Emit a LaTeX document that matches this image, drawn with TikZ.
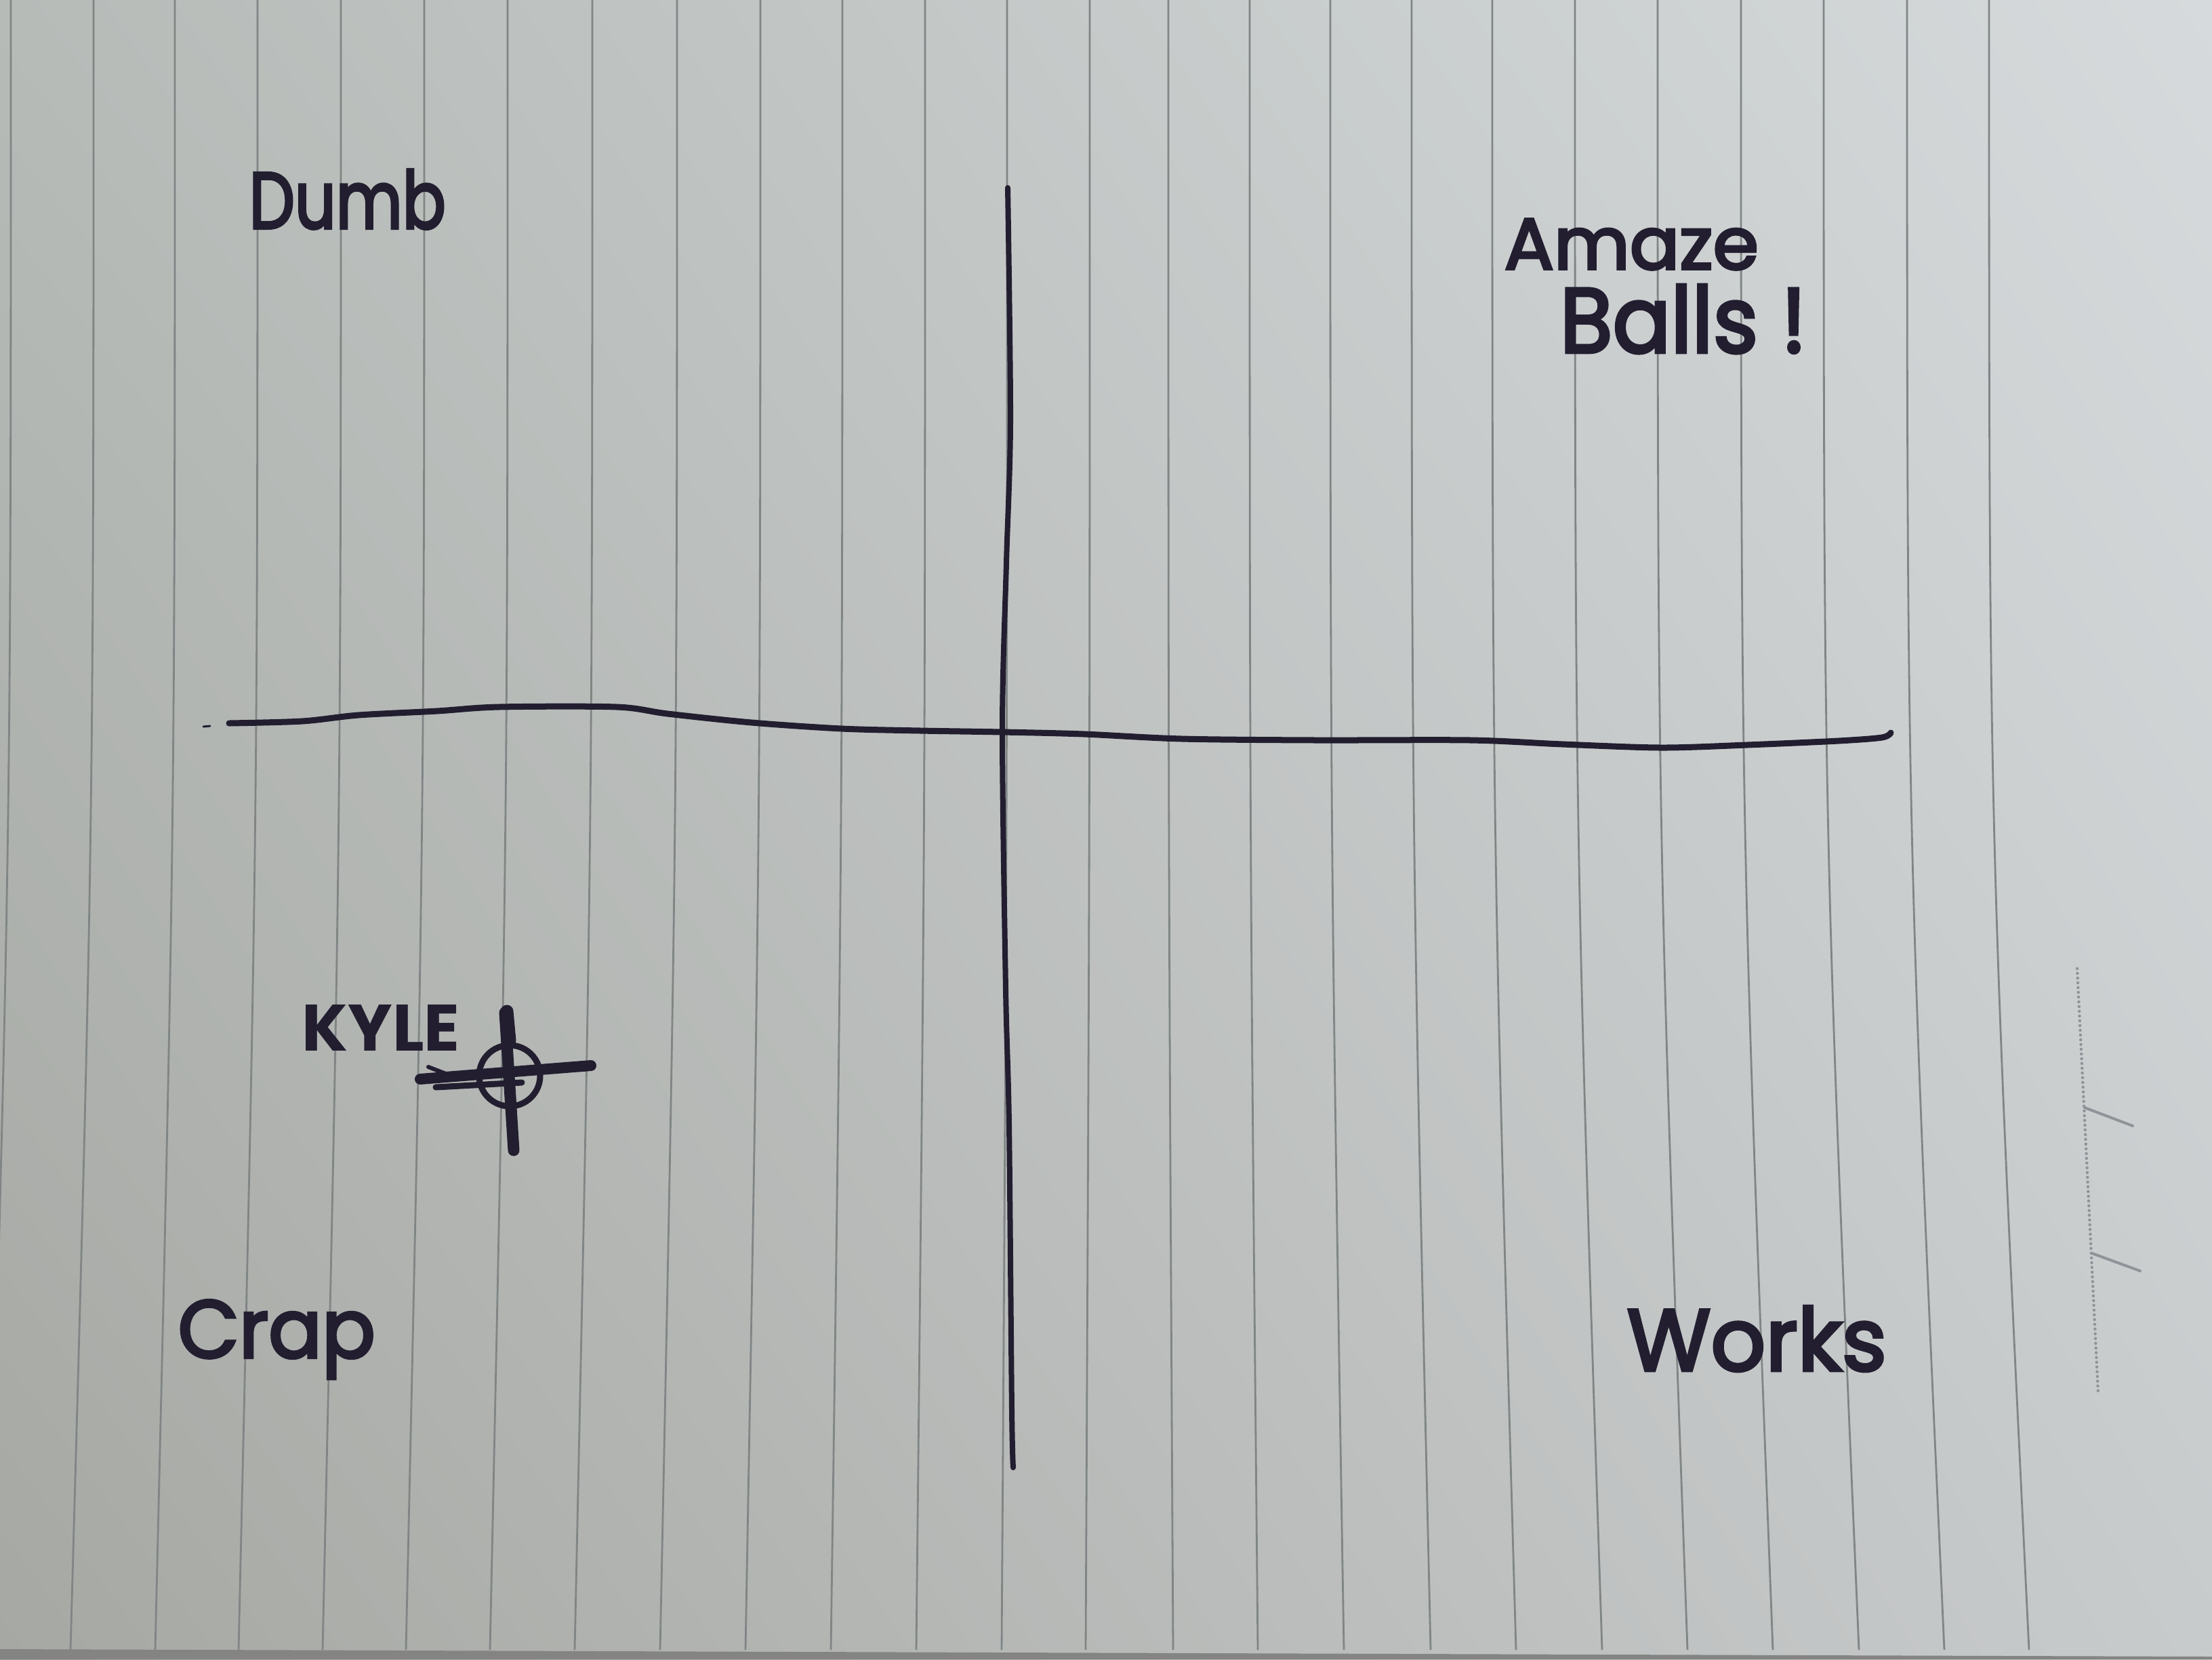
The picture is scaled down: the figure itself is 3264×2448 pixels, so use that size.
\documentclass[tikz,border=0pt]{standalone}
\usepackage{fontspec}
\setmainfont{Poppins}
\newfontfamily\penfont[FakeBold=3.5]{Poppins}
\usepackage{graphicx}
\usetikzlibrary{shadings}

\definecolor{ink}{RGB}{34,30,48}
\definecolor{rule}{RGB}{128,133,133}
\definecolor{perf}{RGB}{142,148,152}
\definecolor{paperUL}{RGB}{182,187,184}
\definecolor{paperUR}{RGB}{214,218,220}
\definecolor{paperLL}{RGB}{166,168,163}
\definecolor{paperLR}{RGB}{200,203,204}
\definecolor{edge}{RGB}{132,132,130}

% handwritten word squeezed into a given width and height
\newcommand{\handword}[3]{\resizebox{#1}{#2}{#3}}

\tikzset{
  ruling/.style={draw=rule, line width=0.028cm},
  axisline/.style={draw=ink, line width=0.09cm, line cap=round, line join=round},
  marker/.style={draw=ink, line cap=round},
  word/.style={text=ink, inner sep=0pt, anchor=base west, font=\penfont},
}

\begin{document}
\begin{tikzpicture}[x=0.01cm, y=-0.01cm]
  \useasboundingbox (0,0) rectangle (3264,2448);

  % sheet of paper
  \shade[upper left=paperUL, upper right=paperUR, lower left=paperLL, lower right=paperLR]
    (0,0) rectangle (3264,2448);
  \fill[edge] (0,2433) -- (3264,2444) -- (3264,2448) -- (0,2448) -- cycle;

  % vertical rulings, bowing slightly towards the bottom
  \foreach \xt/\xb in {16/-18, 138/104, 258/229, 380/352, 503/476, 626/599, 749/723,
                       874/848, 999/974, 1122/1100, 1243/1226, 1365/1352, 1486/1478,
                       1608/1602, 1724/1731, 1844/1856, 1963/1983, 2083/2111,
                       2202/2237, 2324/2364, 2446/2490, 2569/2616, 2691/2743,
                       2814/2869, 2935/2994}
    \draw[ruling] (\xt,0) .. controls (\xt,1217) .. (\xb,2434);

  % perforation in the margin
  \draw[perf, line width=0.045cm, line cap=round, dash pattern=on 0pt off 0.07cm]
    (3065,1429) -- (3096,2056);
  \draw[perf, line width=0.04cm, line cap=round] (3076,1634) -- (3147,1661);
  \draw[perf, line width=0.04cm, line cap=round] (3087,1849) -- (3158,1875);

  % axes
  \coordinate (vtop) at (1487,277);
  \coordinate (vbot) at (1495,2165);
  \coordinate (hleft) at (338,1067);
  \coordinate (hright) at (2790,1081);
  \draw[axisline, line width=0.08cm] plot[smooth, tension=0.5] coordinates
    {(vtop) (1491,620) (1485,830) (1479,1075) (1484,1460) (1489,1660) (1493,2080) (vbot)};
  \draw[axisline] plot[smooth, tension=0.5] coordinates
    {(hleft) (446,1064) (529,1055) (645,1049) (736,1043) (910,1043) (985,1053)
     (1109,1066) (1242,1075) (1358,1078) (1479,1080) (1599,1083) (1744,1090)
     (1943,1092) (2170,1092) (2306,1098) (2451,1103) (2578,1099) (2713,1093)
     (2777,1088) (hright)};
  \draw[marker, line width=0.03cm] (300,1072) -- (310,1071);

  % quadrant labels
  \node[word] (dumb)  at (367,337)  {\handword{2.90cm}{0.87cm}{Dumb}};
  \node[word] (amaze) at (2219,397) {\handword{3.75cm}{0.74cm}{Amaze}};
  \node[word] (balls) at (2301,520) {\handword{3.64cm}{1.00cm}{Balls !}};
  \node[word] (crap)  at (262,2003) {\handword{2.91cm}{0.85cm}{Crap}};
  \node[word] (works) at (2400,2022){\handword{3.83cm}{0.95cm}{Works}};

  % the plotted point
  \node[word, font=\bfseries] (kyle) at (445,1550) {\handword{2.33cm}{0.68cm}{KYLE}};
  \coordinate (pt) at (752,1587);
  \draw[marker, line width=0.16cm] (620,1592) -- (872,1572);
  \draw[marker, line width=0.09cm] (643,1604) -- (770,1597);
  \draw[marker, line width=0.06cm] (632,1574) -- (668,1588);
  \draw[marker, line width=0.17cm] (745,1494) -- (758,1697);
  \draw[marker, line width=0.19cm] (748,1492) -- (752,1535);
  \draw[marker, line width=0.09cm] (pt) circle[radius=45];
\end{tikzpicture}
\end{document}
